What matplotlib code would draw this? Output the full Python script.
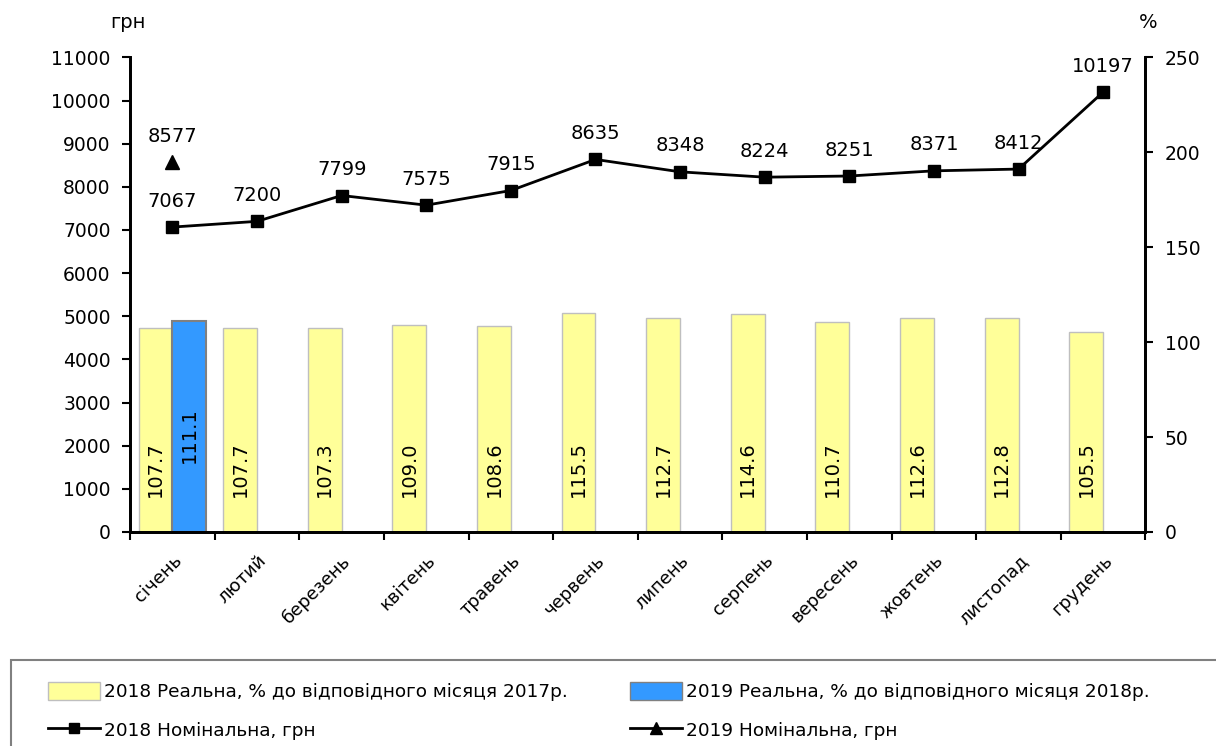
import numpy as np
import matplotlib
matplotlib.use("Agg")
import matplotlib.pyplot as plt
from matplotlib.lines import Line2D
from matplotlib.patches import Patch, Rectangle

months = ["січень", "лютий", "березень", "квітень", "травень", "червень",
          "липень", "серпень", "вересень", "жовтень", "листопад", "грудень"]
real_2018 = [107.7, 107.7, 107.3, 109.0, 108.6, 115.5, 112.7, 114.6, 110.7, 112.6, 112.8, 105.5]
real_2019 = [111.1]
nominal_2018 = [7067, 7200, 7799, 7575, 7915, 8635, 8348, 8224, 8251, 8371, 8412, 10197]
nominal_2019 = [8577]

plt.rcParams["font.family"] = ["DejaVu Sans"]

fig = plt.figure(figsize=(12.16, 7.46), dpi=100)
ax = fig.add_axes([0.107, 0.287, 0.835, 0.636])
ax2 = ax.twinx()

x = np.arange(len(months))
x19 = np.arange(len(real_2019))

# bars on the percent axis
ax2.bar(x - 0.2, real_2018, width=0.4, color="#FFFF99", edgecolor="#BFBFBF", linewidth=1, zorder=2)
ax2.bar(x19 + 0.2, real_2019, width=0.4, color="#3399FF", edgecolor="#808080", linewidth=1.5, zorder=2)
for xi, v in zip(x, real_2018):
    ax2.text(xi - 0.2, 33, f"{v:.1f}", rotation=90, ha="center", va="center", fontsize=14)
for xi, v in zip(x19, real_2019):
    ax2.text(xi + 0.2, 51, f"{v:.1f}", rotation=90, ha="center", va="center", fontsize=14)

# lines on the hryvnia axis, drawn above the bars
ax.set_zorder(ax2.get_zorder() + 1)
ax.patch.set_visible(False)
ax.plot(x, nominal_2018, color="black", lw=2, marker="s", ms=8, zorder=3)
ax.plot(x19, nominal_2019, color="black", lw=2, marker="^", ms=10, ls="none", zorder=3)
for xi, v in zip(x, nominal_2018):
    ax.text(xi, v + 380, str(v), ha="center", va="bottom", fontsize=14)
for xi, v in zip(x19, nominal_2019):
    ax.text(xi, v + 380, str(v), ha="center", va="bottom", fontsize=14)

ax.set_xlim(-0.5, len(months) - 0.5)
ax.set_ylim(0, 11000)
ax.set_yticks(range(0, 11001, 1000))
ax2.set_ylim(0, 250)
ax2.set_yticks(range(0, 251, 50))

ax.set_xticks(np.arange(-0.5, len(months), 1.0))
ax.set_xticklabels([])
ax.set_xticks(x, minor=True)
ax.set_xticklabels(months, minor=True, rotation=45, ha="right", rotation_mode="anchor", fontsize=13)
ax.tick_params(axis="x", which="minor", length=0, pad=14)
ax.tick_params(axis="x", which="major", length=6, width=1.5, direction="out")
ax.tick_params(axis="y", labelsize=13.5, length=6, width=1.5, pad=8)
ax2.tick_params(axis="y", labelsize=13.5, length=6, width=1.5, pad=8)

for a in (ax, ax2):
    a.spines["top"].set_visible(False)
    for s in ("left", "right", "bottom"):
        a.spines[s].set_linewidth(2)

fig.text(0.105, 0.97, "грн", ha="center", va="center", fontsize=14)
fig.text(0.944, 0.97, "%", ha="center", va="center", fontsize=14)

# legend
fig.patches.append(Rectangle((0.009, -0.05), 1.05, 0.165, transform=fig.transFigure,
                             fill=False, edgecolor="#808080", linewidth=1.5))
handles = [
    Patch(facecolor="#FFFF99", edgecolor="#BFBFBF"),
    Line2D([], [], color="black", lw=2, marker="s", ms=7),
    Patch(facecolor="#3399FF", edgecolor="#808080"),
    Line2D([], [], color="black", lw=2, marker="^", ms=9),
]
labels = [
    "2018 Реальна, % до відповідного місяця 2017р.",
    "2018 Номінальна, грн",
    "2019 Реальна, % до відповідного місяця 2018р.",
    "2019 Номінальна, грн",
]
fig.legend(handles, labels, ncol=2, loc="upper left", bbox_to_anchor=(0.026, 0.108),
           frameon=False, handlelength=2.8, handleheight=1.1,
           columnspacing=3.4, labelspacing=1.05, handletextpad=0.2,
           prop={"family": ["DejaVu Sans"], "size": 13.3})

fig.savefig("out.png", dpi=100)
